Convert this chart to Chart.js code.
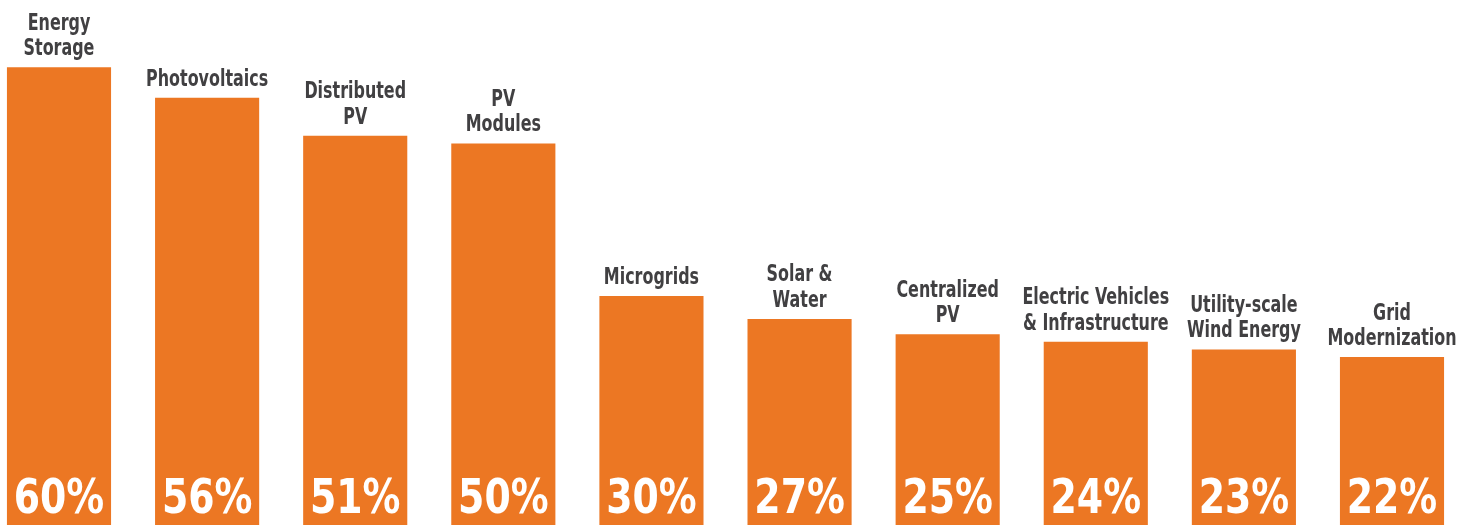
<!DOCTYPE html>
<html>
<head>
<meta charset="utf-8">
<script src="https://cdn.jsdelivr.net/npm/chart.js@4"></script>
<style>
  html, body { margin: 0; padding: 0; background: #fff; }
  #wrap { width: 1476px; height: 525px; position: relative; }
</style>
</head>
<body>
<div id="wrap"><canvas id="chart"></canvas></div>
<script>
// ---- data ----
const categories = [
  ['Energy', 'Storage'],
  ['Photovoltaics'],
  ['Distributed', 'PV'],
  ['PV', 'Modules'],
  ['Microgrids'],
  ['Solar &', 'Water'],
  ['Centralized', 'PV'],
  ['Electric Vehicles', '& Infrastructure'],
  ['Utility-scale', 'Wind Energy'],
  ['Grid', 'Modernization']
];
const shares = [60, 56, 51, 50, 30, 27, 25, 24, 23, 22];

const ORANGE = '#EC7723';
const TEXT = '#414042';
const FONT = "'DejaVu Sans Condensed', 'DejaVu Sans', sans-serif";

// squeezed text (the original uses a condensed face)
function narrowText(ctx, txt, x, y, sx) {
  ctx.save();
  ctx.translate(x, y);
  ctx.scale(sx, 1);
  ctx.fillText(txt, 0, 0);
  ctx.restore();
}

// labels above bars + percentages inside the bars
const barText = {
  id: 'barText',
  afterDatasetsDraw(chart) {
    const ctx = chart.ctx;
    const meta = chart.getDatasetMeta(0);
    const bottom = chart.chartArea.bottom;
    ctx.save();
    ctx.textAlign = 'center';
    ctx.textBaseline = 'alphabetic';
    meta.data.forEach((bar, i) => {
      const lines = categories[i];
      ctx.fillStyle = TEXT;
      ctx.font = 'bold 23px ' + FONT;
      for (let k = 0; k < lines.length; k++) {
        const y = bar.y - 12 - (lines.length - 1 - k) * 25.5;
        narrowText(ctx, lines[k], bar.x, y, 0.77);
      }
      ctx.fillStyle = '#ffffff';
      ctx.font = 'bold 48px ' + FONT;
      narrowText(ctx, shares[i] + '%', bar.x, bottom - 12, 0.875);
    });
    ctx.restore();
  }
};

new Chart(document.getElementById('chart'), {
  type: 'bar',
  data: {
    labels: categories.map(c => c.join(' ')),
    datasets: [{
      data: shares,
      backgroundColor: ORANGE,
      borderWidth: 0,
      barPercentage: 0.703,
      categoryPercentage: 1,
      clip: false
    }]
  },
  options: {
    responsive: true,
    maintainAspectRatio: false,
    animation: false,
    layout: { padding: { left: 59, right: 84, top: 0, bottom: 0 } },
    plugins: { legend: { display: false }, tooltip: { enabled: false } },
    scales: {
      x: { display: false, offset: false },
      y: { display: false, min: 0, max: 68.8 }
    }
  },
  plugins: [barText]
});
</script>
</body>
</html>
